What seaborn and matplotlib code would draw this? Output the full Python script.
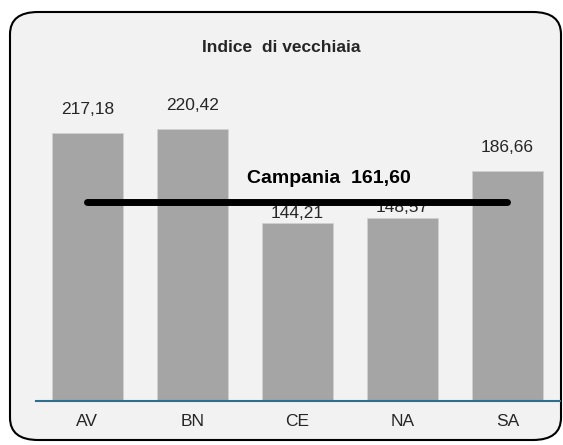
import matplotlib
matplotlib.use("Agg")
import matplotlib.pyplot as plt
from matplotlib.patches import FancyBboxPatch
import seaborn as sns
import pandas as pd

# Data
province = ["AV", "BN", "CE", "NA", "SA"]
indice = [217.18, 220.42, 144.21, 148.57, 186.66]
campania = 161.60

df = pd.DataFrame({"Provincia": province, "Indice": indice})

sns.set_style("white")
plt.rcParams["font.family"] = ["Liberation Sans", "DejaVu Sans"]

fig = plt.figure(figsize=(5.63, 4.45), dpi=100)
fig.patch.set_facecolor("white")

# rounded frame
box = FancyBboxPatch((10 / 563, 5 / 445), 551 / 563, 428 / 445,
                     boxstyle="round,pad=0,rounding_size=0.05",
                     transform=fig.transFigure, facecolor="#f2f2f2",
                     edgecolor="black", linewidth=1.5, zorder=-5)
fig.patches.append(box)

ax = fig.add_axes([36 / 563, 44 / 445, 524 / 563, 300 / 445])
ax.set_zorder(2)
ax.set_facecolor("none")

sns.barplot(data=df, x="Provincia", y="Indice", color="#a5a5a5",
            width=0.67, saturation=1, edgecolor="#d0d0d0", linewidth=0.6, ax=ax)

ax.set_xlim(-0.49, 4.5)
ax.set_ylim(0, 300 / 1.234)

# labels over the bars (lower ones pushed down, as in the original)
label_offsets = [17, 17, 7, 7, 17]
for i, v in enumerate(indice):
    ax.annotate(f"{v:.2f}".replace(".", ","), (i, v), xytext=(0, label_offsets[i]),
                textcoords="offset points", ha="center", va="center",
                fontsize=12.5, color="#262626")

ax.plot([0, 4], [campania, campania], color="black", linewidth=5,
        solid_capstyle="round", zorder=5)
ax.text(2.3, campania + 19, f"Campania  {campania:.2f}".replace(".", ","),
        ha="center", va="center", fontsize=14, fontweight="bold", color="black")

for s in ["top", "left", "right"]:
    ax.spines[s].set_visible(False)
ax.spines["bottom"].set_color("#2e6e8e")
ax.spines["bottom"].set_linewidth(1.5)
ax.set_yticks([])
ax.set_xlabel("")
ax.set_ylabel("")
ax.tick_params(axis="x", length=0, labelsize=12.5, labelcolor="#262626", pad=9)

fig.text(0.5, 1 - 47 / 445, "Indice  di vecchiaia", ha="center", va="center",
         fontsize=12.5, fontweight="bold")

fig.savefig("out.png", dpi=100)
